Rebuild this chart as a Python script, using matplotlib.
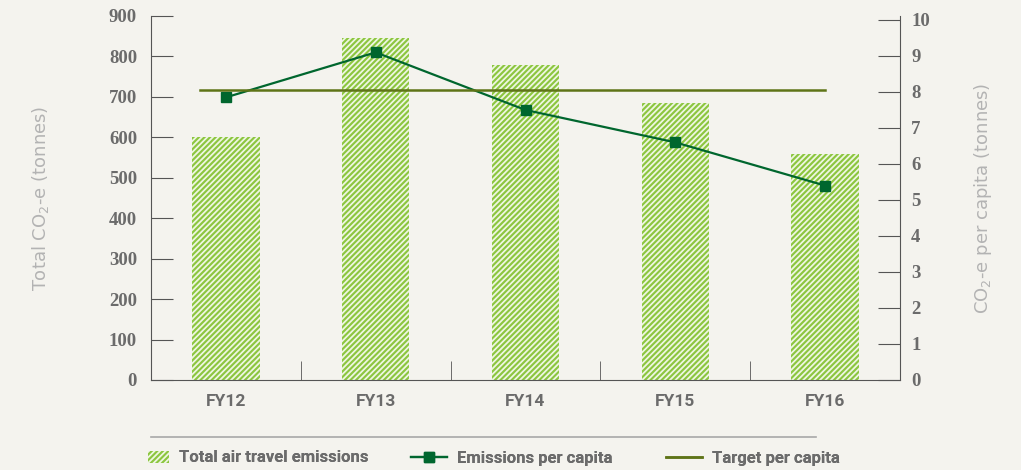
import matplotlib.pyplot as plt
from matplotlib.lines import Line2D

years = ["FY12", "FY13", "FY14", "FY15", "FY16"]
total_emissions = [600, 845, 780, 685, 560]
per_capita = [7.85, 9.1, 7.5, 6.6, 5.4]
target_per_capita = 8.05

bg = "#f4f3ee"
bar_green = "#8cc63f"
line_green = "#00662e"
olive = "#5e7417"
tick_grey = "#6b6b6b"
label_grey = "#b3b3b3"
narrow = ["Roboto", "DejaVu Sans"]

plt.rcParams["hatch.linewidth"] = 1.3

fig = plt.figure(figsize=(10.21, 4.70), dpi=100, facecolor=bg)
ax = fig.add_axes([151 / 1021, 90 / 470, 749 / 1021, 364 / 470])
ax.set_facecolor(bg)

x = list(range(len(years)))
ax.bar(x, total_emissions, width=0.45, color=bar_green, edgecolor="#eef6e2",
       linewidth=0, hatch="//////", label="Total air travel emissions")
ax.set_xlim(-0.5, 4.5)
ax.set_ylim(0, 900)
ax.set_yticks(range(0, 1000, 100))
ax.set_xticks(x)
ax.set_xticklabels(years)
ax.set_xticks([0.5, 1.5, 2.5, 3.5], minor=True)

for s in ["top", "right"]:
    ax.spines[s].set_visible(False)
ax.spines["left"].set_color("#555555")
ax.spines["bottom"].set_color("#555555")
ax.tick_params(axis="y", direction="in", length=16, color="#555555",
               labelsize=13.5, labelcolor=tick_grey, pad=10)
ax.tick_params(axis="x", which="major", length=0, pad=10, labelsize=12.5,
               labelcolor=tick_grey)
ax.tick_params(axis="x", which="minor", direction="in", length=14, color="#555555")
for t in ax.get_yticklabels():
    t.set_fontfamily("Liberation Serif")
    t.set_fontweight("bold")
for t in ax.get_xticklabels():
    t.set_fontfamily(narrow)
    t.set_fontweight("bold")
ax.set_ylabel("Total CO$_2$-e (tonnes)", color=label_grey, fontsize=13, labelpad=42)

ax2 = ax.twinx()
ax2.set_ylim(0, 10.11)
ax2.set_yticks(range(0, 11))
ax2.plot(x, per_capita, color=line_green, marker="s", markersize=7, linewidth=1.6,
         label="Emissions per capita")
ax2.plot([-0.17, 4], [target_per_capita, target_per_capita], color=olive,
         linewidth=1.8, label="Target per capita")
for s in ["top", "left", "bottom"]:
    ax2.spines[s].set_visible(False)
ax2.spines["right"].set_color("#555555")
ax2.tick_params(axis="y", direction="in", length=16, color="#555555",
                labelsize=13.5, labelcolor=tick_grey, pad=8)
for t in ax2.get_yticklabels():
    t.set_fontfamily("Liberation Serif")
    t.set_fontweight("bold")
ax2.set_ylabel("CO$_2$-e per capita (tonnes)", color=label_grey, fontsize=13, labelpad=30)

# divider above legend
fig.add_artist(Line2D([151 / 1021, 816 / 1021], [1 - 437 / 470, 1 - 437 / 470],
                      color="#a8a8a8", linewidth=1.2))

handles = ax.get_legend_handles_labels()[0] + ax2.get_legend_handles_labels()[0]
anchors = [141, 404, 659]
for h, xa in zip(handles, anchors):
    leg = fig.legend([h], [h.get_label()], loc="center left",
                     bbox_to_anchor=(xa / 1021, 1 - 458 / 470), frameon=False,
                     handlelength=2.2 if h is not handles[0] else 1.3,
                     handletextpad=0.6, borderaxespad=0,
                     prop={"family": narrow, "weight": "bold", "size": 12})
    for t in leg.get_texts():
        t.set_color(tick_grey)
    fig.add_artist(leg)

fig.savefig("out.png", dpi=100, facecolor=bg)
